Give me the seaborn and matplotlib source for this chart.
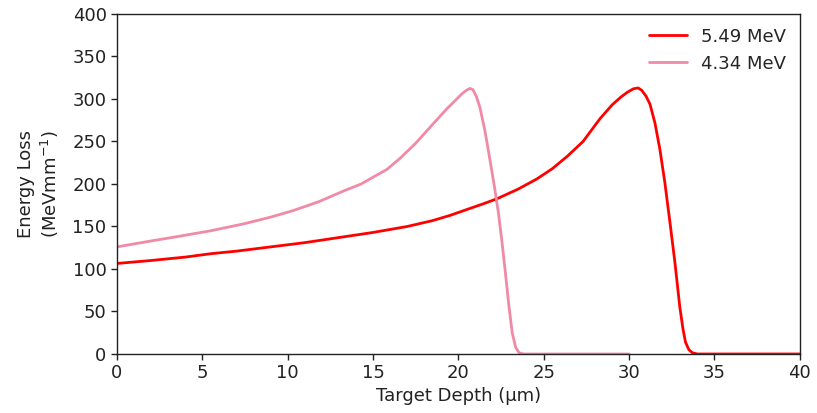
import matplotlib
matplotlib.use("Agg")
import matplotlib.pyplot as plt
import seaborn as sns
import pandas as pd

# Stopping-power (energy loss) curves vs. depth for two alpha energies
depth_549 = [0, 2, 4, 5.5, 7, 9, 11, 13, 15, 17, 18.5, 19.5, 20.5, 21.5, 22.3,
             23.5, 24.6, 25.5, 26.4, 27.3, 28.3, 29.0, 29.5, 29.9, 30.25,
             30.53, 30.75, 31.0, 31.22, 31.51, 31.8, 32.09, 32.39, 32.68, 32.97,
             33.15, 33.3, 33.5, 33.7, 34.0, 40]
loss_549 = [106.5, 110, 114, 118, 121, 126, 131, 137, 143, 150, 157, 163, 170,
            177, 183, 194, 206, 218, 233, 250, 277, 293, 302, 308, 312,
            313, 310, 303, 294, 272, 241, 202, 155, 108, 55,
            30, 14, 5, 1.5, 0, 0]

depth_434 = [0, 2, 3.5, 5.5, 7.4, 9, 10.3, 11.8, 13.3, 14.3, 15, 15.8, 16.57,
             17.5, 18.53, 19.3, 19.8, 20.2, 20.45, 20.67, 20.85, 21.05, 21.26,
             21.55, 21.85, 22.1, 22.35, 22.55, 22.75, 22.95, 23.15, 23.35,
             23.55, 23.8, 30]
loss_434 = [126, 133, 138, 145, 153, 161, 168.6, 179, 192, 200, 208, 217, 230,
            248, 271, 288, 298, 306, 310, 312.5, 311, 303, 290,
            263, 228, 198, 165, 132, 96, 58, 25, 8,
            1.5, 0, 0]

labels = ["5.49 MeV", "4.34 MeV"]
colors = ["#ff0000", "#f08aa6"]

df = pd.concat([
    pd.DataFrame({"depth": depth_549, "loss": loss_549, "beam": labels[0]}),
    pd.DataFrame({"depth": depth_434, "loss": loss_434, "beam": labels[1]}),
], ignore_index=True)

sns.set_style("ticks")
plt.rcParams["font.family"] = ["DejaVu Sans"]

fig = plt.figure(figsize=(8.17, 4.13), dpi=100)
ax = fig.add_axes([0.1432, 0.1429, 0.8358, 0.8232])

sns.lineplot(data=df, x="depth", y="loss", hue="beam", hue_order=labels,
             palette=colors, linewidth=2, sort=False, estimator=None, ax=ax)

ax.set_xlim(0, 40)
ax.set_ylim(0, 400)
ax.set_xticks(range(0, 41, 5))
ax.set_yticks(range(0, 401, 50))
ax.set_xlabel("Target Depth (µm)", fontsize=13, color="#222222", labelpad=3)
ax.set_ylabel("Energy Loss\n(MeVmm$^{-1}$)", fontsize=13, color="#222222",
              labelpad=8)
ax.tick_params(labelsize=13, length=4, width=1, colors="#222222")
for s in ax.spines.values():
    s.set_color("#222222")
    s.set_linewidth(1)

leg = ax.legend(loc="upper right", frameon=False, fontsize=13,
                handlelength=2.1, borderaxespad=0.35)

fig.savefig("out.png", dpi=100)
